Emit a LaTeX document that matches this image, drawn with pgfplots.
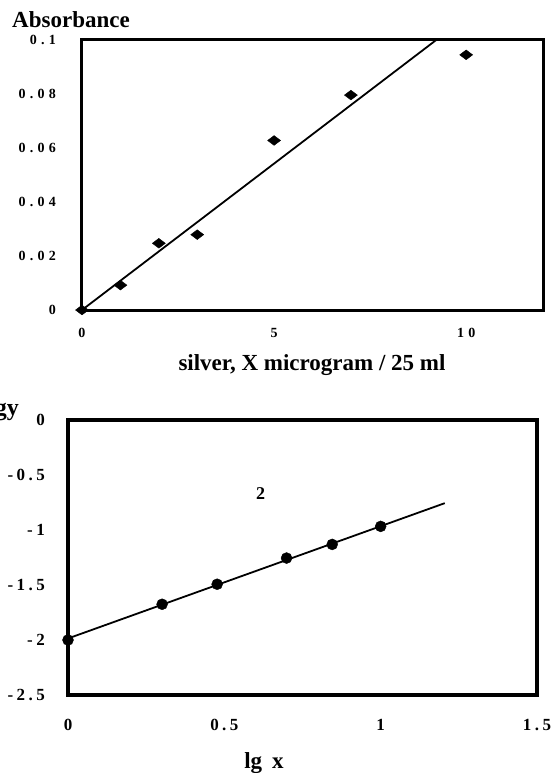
\documentclass[border=0pt]{standalone}
\usepackage{fontspec}
\setmainfont{Liberation Serif}
\newfontfamily\tickA[LetterSpace=30]{Liberation Serif}
\newfontfamily\tickB[LetterSpace=20]{Liberation Serif}
\usepackage{pgfplots}
\pgfplotsset{compat=1.18}
\begin{document}
\begin{tikzpicture}
\path[use as bounding box] (0pt,0pt) rectangle (552pt,-773pt);
\coordinate (TA) at (82pt,-310pt);
\coordinate (BA) at (68pt,-695pt);
% ---------- top chart ----------
\begin{axis}[
  at={(TA)}, anchor=south west,
  scale only axis, width=461pt, height=270pt,
  xmin=0, xmax=12, ymin=0, ymax=0.1,
  axis line style={line width=3pt},
  tick style={draw=none},
  xtick={0,5,10}, xticklabels={0,5,10},
  ytick={0,0.02,0.04,0.06,0.08,0.1},
  yticklabels={0,0.02,0.04,0.06,0.08,0.1},
  xticklabel style={font=\tickA\bfseries\fontsize{14}{16}\selectfont, inner sep=0pt, anchor=north, yshift=-18pt},
  yticklabel style={font=\tickA\bfseries\fontsize{14}{16}\selectfont, inner sep=0pt, anchor=east, xshift=-26pt},
  clip=false,
]
\addplot[black, line width=1.8pt, no marks] coordinates {(0,0) (9.22,0.1)};
\addplot[only marks, mark=diamond*, mark size=6.5pt, mark options={rotate=90, fill=black, draw=black}]
  coordinates {(0,0) (1,0.0092) (2,0.0247) (3,0.0279) (5,0.0628) (7,0.0796) (10,0.0945)};
\end{axis}
\node[anchor=base, font=\bfseries\fontsize{23}{26}\selectfont, inner sep=0pt] at (71pt,-28pt) {Absorbance};
\node[anchor=base, font=\bfseries\fontsize{23}{26}\selectfont, inner sep=0pt] at (312pt,-370pt) {silver, X microgram / 25 ml};
% ---------- bottom chart ----------
\begin{axis}[
  at={(BA)}, anchor=south west,
  scale only axis, width=469pt, height=275pt,
  xmin=0, xmax=1.5, ymin=-2.5, ymax=0,
  axis line style={line width=4.5pt},
  tick style={draw=none},
  xtick={0,0.5,1,1.5}, xticklabels={0,0.5,1,1.5},
  ytick={-2.5,-2,-1.5,-1,-0.5,0},
  yticklabels={-2.5,-2,-1.5,-1,-0.5,0},
  xticklabel style={font=\tickB\bfseries\fontsize{17}{19}\selectfont, inner sep=0pt, anchor=north, yshift=-24pt},
  yticklabel style={font=\tickB\bfseries\fontsize{17}{19}\selectfont, inner sep=0pt, anchor=east, xshift=-23pt},
  clip=false,
]
\addplot[black, line width=1.8pt, no marks] coordinates {(0,-1.986) (1.205,-0.756)};
\addplot[only marks, mark=*, mark size=5.5pt, mark options={fill=black, draw=black}]
  coordinates {(0,-2.0) (0.301,-1.675) (0.477,-1.493) (0.699,-1.255) (0.845,-1.131) (1.0,-0.967)};
\node[font=\bfseries\fontsize{18}{20}\selectfont] at (axis cs:0.616,-0.671) {2};
\end{axis}
\node[anchor=base east, font=\bfseries\fontsize{24}{26}\selectfont, inner sep=0pt] at (19pt,-415pt) {lgy};
\node[anchor=base, font=\bfseries\fontsize{23}{26}\selectfont, inner sep=0pt] at (264pt,-768pt) {lg\hspace{10pt}x};
\end{tikzpicture}
\end{document}
